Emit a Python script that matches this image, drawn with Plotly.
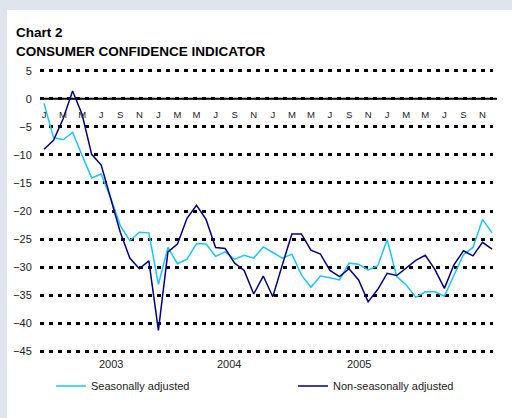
import plotly.graph_objects as go

months = list(range(48))
month_labels = ["J", "M", "M", "J", "S", "N"] * 4
month_tickvals = list(range(0, 48, 2))
year_labels = ["2003", "2004", "2005"]
year_pos = [7.0, 19.4, 33.0]

seasonally_adjusted = [
    -0.8, -6.9, -7.3, -6.0, -10.1, -14.1, -13.4, -17.7, -22.6, -25.3, -23.8, -23.9,
    -33.1, -26.5, -29.4, -28.6, -25.8, -25.9, -28.1, -27.3, -28.6, -27.9, -28.4, -26.4,
    -27.4, -28.4, -27.7, -31.4, -33.6, -31.6, -31.9, -32.3, -29.3, -29.5, -30.5, -29.8,
    -25.1, -31.7, -33.2, -35.4, -34.4, -34.4, -35.2, -31.4, -27.8, -26.5, -21.5, -23.9,
]
non_seasonally_adjusted = [
    -9.0, -7.4, -3.6, 1.4, -2.8, -9.9, -11.8, -17.7, -23.8, -28.4, -30.3, -28.9,
    -41.3, -27.3, -25.9, -21.3, -19.0, -21.5, -26.5, -26.7, -29.3, -30.6, -34.8, -31.6,
    -35.3, -29.6, -24.1, -24.1, -27.0, -27.7, -30.6, -31.7, -30.3, -32.3, -36.2, -34.0,
    -31.1, -31.5, -30.2, -28.8, -27.9, -30.4, -33.8, -29.6, -27.1, -28.0, -25.6, -26.8,
]
y_ticks = list(range(5, -50, -5))

W, H = 512, 418
L, R, T, B = 40, 493, 68, 354
pw, ph = R - L, B - T


def px(x):
    return (x - L) / pw


def py(y):
    return (B - y) / ph


FONT = "Liberation Sans, Arial, sans-serif"

fig = go.Figure()
fig.add_trace(go.Scatter(x=months, y=seasonally_adjusted, mode="lines",
                         name="Seasonally adjusted", legend="legend",
                         line=dict(color="#1cc6f4", width=1.5)))
fig.add_trace(go.Scatter(x=months, y=non_seasonally_adjusted, mode="lines",
                         name="Non-seasonally adjusted", legend="legend2",
                         line=dict(color="#000080", width=1.5)))

y0 = -45.5
y1 = 5.5
zero_frac = (0 - y0) / (y1 - y0)

leg_common = dict(orientation="h", y=py(386), xanchor="left", yanchor="middle",
                  font=dict(size=11, family=FONT, color="#222222"),
                  bgcolor="rgba(0,0,0,0)", itemwidth=30)

fig.update_layout(
    width=W, height=H,
    margin=dict(l=L, r=W - R, t=T, b=H - B, pad=0, autoexpand=False),
    paper_bgcolor="#dfe4ef",
    plot_bgcolor="rgba(0,0,0,0)",
    font=dict(family=FONT, color="#222222", size=11),
    showlegend=True,
    legend=dict(x=px(51), **leg_common),
    legend2=dict(x=px(293), **leg_common),
    xaxis=dict(range=[-0.42, 47.1], anchor="free", position=zero_frac,
               tickmode="array", tickvals=month_tickvals, ticktext=month_labels,
               ticks="outside", ticklen=7, tickcolor="rgba(0,0,0,0)",
               tickfont=dict(size=9.5, family=FONT, color="#222222"),
               showgrid=False, zeroline=False, showline=False),
    yaxis=dict(range=[y0, y1], tickmode="array", tickvals=y_ticks,
               ticks="outside", ticklen=5, tickcolor="rgba(0,0,0,0)",
               tickfont=dict(size=11, family=FONT, color="#222222"),
               showgrid=True, gridcolor="#000000", gridwidth=3, griddash="4px,5px",
               zeroline=False, showline=False),
    shapes=[
        dict(type="rect", xref="paper", yref="paper", x0=px(7), x1=px(514),
             y0=py(420), y1=py(10), fillcolor="#ffffff", line=dict(width=0), layer="below"),
        dict(type="line", xref="paper", yref="y", x0=0, x1=px(497), y0=0, y1=0,
             line=dict(color="#000000", width=2), layer="below"),
    ],
)

annotations = [
    dict(text="<b>Chart 2</b>", x=px(14), y=py(32), xref="paper", yref="paper",
         xanchor="left", yanchor="middle", showarrow=False,
         font=dict(size=13.5, family=FONT, color="#000000")),
    dict(text="<b>CONSUMER CONFIDENCE INDICATOR</b>", x=px(14), y=py(51), xref="paper",
         yref="paper", xanchor="left", yanchor="middle", showarrow=False,
         font=dict(size=13.5, family=FONT, color="#000000")),
]
for lab, pos in zip(year_labels, year_pos):
    annotations.append(dict(text=lab, x=pos, y=py(364), xref="x", yref="paper",
                            xanchor="center", yanchor="middle", showarrow=False,
                            font=dict(size=11, family=FONT, color="#222222")))
fig.update_layout(annotations=annotations)

fig.write_html(
    "out.html",
    config={"displayModeBar": False},
    post_script="document.body.style.margin='0';document.body.style.overflow='hidden';",
)
